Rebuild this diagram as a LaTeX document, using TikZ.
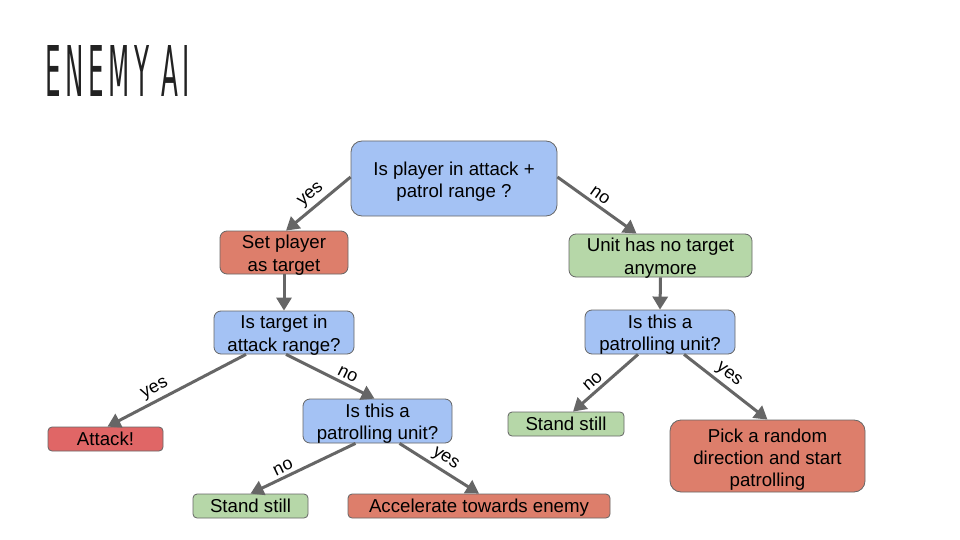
\documentclass[tikz,border=0pt]{standalone}
\usepackage{fontspec}
\setmainfont{Liberation Sans}
\newfontfamily\titlefont{DejaVu Sans Condensed}
\usetikzlibrary{arrows.meta}
\definecolor{qblue}{HTML}{A4C2F4}
\definecolor{qred}{HTML}{DD7E6B}
\definecolor{qgreen}{HTML}{B6D7A8}
\definecolor{qattack}{HTML}{E06666}
\definecolor{qline}{HTML}{666666}
\definecolor{qtitle}{HTML}{222222}
\tikzset{
  box/.style={draw=qline, line width=0.8pt, inner sep=0pt, align=center,
    font=\fontsize{18.67}{22.4}\selectfont},
  two/.style={text height=40pt, text depth=2.5pt},
  three/.style={text height=65.5pt},
  bigbox/.style={box, rounded corners=11pt},
  midbox/.style={box, two, rounded corners=7pt},
  smallbox/.style={box, text height=13.6pt, text depth=0pt, rounded corners=4pt},
  arr/.style={draw=qline, line width=3pt,
    -{Triangle[length=13pt,width=15pt]}},
  lbl/.style={font=\fontsize{18}{20}\selectfont, sloped, inner sep=3pt}
}
\begin{document}
\begin{tikzpicture}[x=1pt,y=-1pt]
\useasboundingbox[fill=white] (0,0) rectangle (960,540);
\node[anchor=south west, inner sep=0pt, text=qtitle] (title) at (45,97)
  {\resizebox{145pt}{51pt}{\titlefont E\,N\,E\,M\,Y\, A\,I}};
% nodes
\node[bigbox, text height=42.5pt, fill=qblue, minimum width=206pt, minimum height=75pt] (q1) at (454,178.5)
  {Is player in attack +\\patrol range ?};
\node[midbox, fill=qred, minimum width=128pt, minimum height=43pt] (s1) at (284,252.5)
  {Set player\\as target};
\node[midbox, fill=qgreen, minimum width=183pt, minimum height=43pt] (u1) at (660.5,255.5)
  {Unit has no target\\anymore};
\node[midbox, fill=qblue, minimum width=140pt, minimum height=43pt] (q2) at (284,332.5)
  {Is target in\\attack range?};
\node[midbox, fill=qblue, minimum width=150pt, minimum height=44pt] (q3) at (660,332)
  {Is this a\\patrolling unit?};
\node[midbox, fill=qblue, minimum width=149pt, minimum height=44pt] (q4) at (377.5,421)
  {Is this a\\patrolling unit?};
\node[smallbox, fill=qattack, minimum width=115pt, minimum height=24pt] (atk) at (105.5,439)
  {Attack!};
\node[smallbox, fill=qgreen, minimum width=115pt, minimum height=24pt] (ss1) at (250.5,506)
  {Stand still};
\node[smallbox, fill=qred, minimum width=262pt, minimum height=24pt] (acc) at (479,506)
  {Accelerate towards enemy};
\node[smallbox, fill=qgreen, minimum width=116pt, minimum height=24pt] (ss2) at (566,424)
  {Stand still};
\node[bigbox, three, fill=qred, minimum width=195pt, minimum height=72pt] (pick) at (767.5,456)
  {Pick a random\\direction and start\\patrolling};
% connectors
\draw[arr] ([yshift=1.5pt]q1.west) -- node[lbl, above] {yes} ([xshift=2pt]s1.north);
\draw[arr] ([yshift=1.5pt]q1.east) -- node[lbl, above, pos=0.47] {no} ([xshift=-24pt]u1.north);
\draw[arr] (s1.south) -- (q2.north);
\draw[arr] (u1.south) -- (q3.north);
\draw[arr] ([xshift=-38pt]q2.south) -- node[lbl, above, pos=0.62] {yes} ([xshift=2pt]atk.north);
\draw[arr] ([xshift=2pt]q2.south) -- node[lbl, above, pos=0.65] {no} ([xshift=-3pt]q4.north);
\draw[arr] ([xshift=-22pt]q4.south) -- node[lbl, above, pos=0.65] {no} (ss1.north);
\draw[arr] ([xshift=22pt]q4.south) -- node[lbl, above, pos=0.5] {yes} (acc.north);
\draw[arr] ([xshift=-22pt]q3.south) -- node[lbl, above, pos=0.6] {no} ([xshift=7pt]ss2.north);
\draw[arr] ([xshift=24pt]q3.south) -- node[lbl, above, pos=0.45] {yes} (pick.north);
\end{tikzpicture}
\end{document}
